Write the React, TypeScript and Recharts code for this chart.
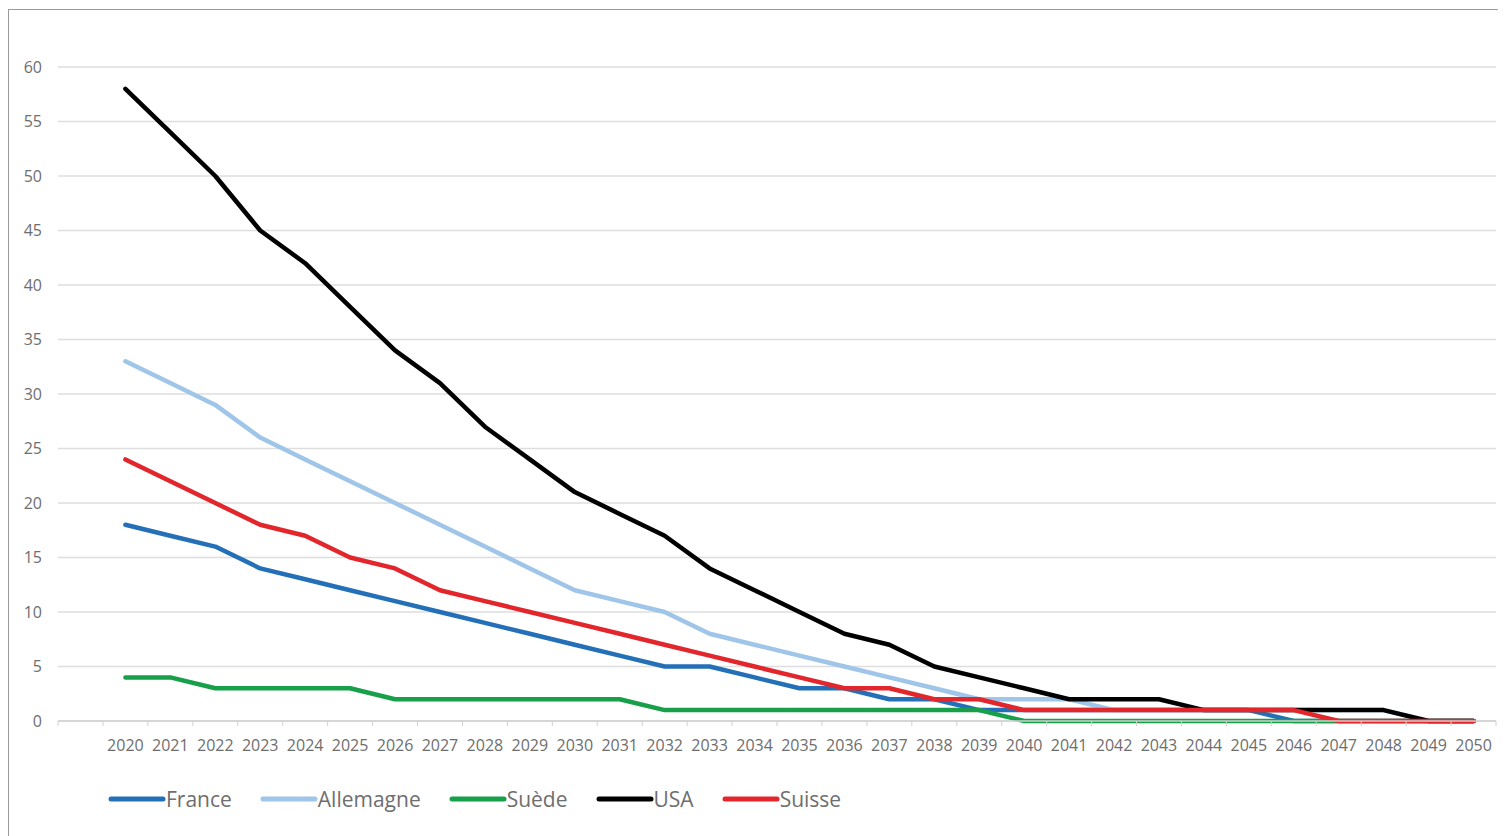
import React from "react";
import { LineChart, Line, XAxis, YAxis, CartesianGrid, Legend } from "recharts";

const years = ["", "2020", "2021", "2022", "2023", "2024", "2025", "2026", "2027", "2028", "2029", "2030", "2031", "2032", "2033", "2034", "2035", "2036", "2037", "2038", "2039", "2040", "2041", "2042", "2043", "2044", "2045", "2046", "2047", "2048", "2049", "2050"];

const france = [null, 18, 17, 16, 14, 13, 12, 11, 10, 9, 8, 7, 6, 5, 5, 4, 3, 3, 2, 2, 1, 1, 1, 1, 1, 1, 1, 0, 0, 0, 0, 0];
const allemagne = [null, 33, 31, 29, 26, 24, 22, 20, 18, 16, 14, 12, 11, 10, 8, 7, 6, 5, 4, 3, 2, 2, 2, 1, 1, 1, 1, 1, 1, 1, 0, 0];
const suede = [null, 4, 4, 3, 3, 3, 3, 2, 2, 2, 2, 2, 2, 1, 1, 1, 1, 1, 1, 1, 1, 0, 0, 0, 0, 0, 0, 0, 0, 0, 0, 0];
const usa = [null, 58, 54, 50, 45, 42, 38, 34, 31, 27, 24, 21, 19, 17, 14, 12, 10, 8, 7, 5, 4, 3, 2, 2, 2, 1, 1, 1, 1, 1, 0, 0];
const suisse = [null, 24, 22, 20, 18, 17, 15, 14, 12, 11, 10, 9, 8, 7, 6, 5, 4, 3, 3, 2, 2, 1, 1, 1, 1, 1, 1, 1, 0, 0, 0, 0];

const yTicks = [0, 5, 10, 15, 20, 25, 30, 35, 40, 45, 50, 55, 60];

const series = [
  { key: "France", values: france, color: "#2470b8" },
  { key: "Allemagne", values: allemagne, color: "#9fc5e8" },
  { key: "Suède", values: suede, color: "#17a049" },
  { key: "USA", values: usa, color: "#000000" },
  { key: "Suisse", values: suisse, color: "#e3262b" },
];

const data = years.map((y, i) => {
  const row: any = { year: y };
  series.forEach((s) => {
    row[s.key] = s.values[i];
  });
  return row;
});

const CHART_W = 1497;
const CHART_H = 826;
const MARGIN = { top: 57, right: 10, left: 0, bottom: 75 };
const Y_AXIS_W = 49;
const HALF_BAND = (CHART_W - MARGIN.right - Y_AXIS_W) / years.length / 2;
const FONT = "'Open Sans', 'Noto Sans', sans-serif";
const LABEL_COLOR = "#6e6e6e";

const XTick = (props: any) => {
  const { x, y, payload, index } = props;
  const axisY = y - 19;
  const isLast = index === years.length - 1;
  return (
    <g>
      <line x1={x - HALF_BAND} x2={x - HALF_BAND} y1={axisY} y2={axisY + 5} stroke="#d0d0d0" strokeWidth={1} />
      {isLast && (
        <line x1={x + HALF_BAND} x2={x + HALF_BAND} y1={axisY} y2={axisY + 5} stroke="#d0d0d0" strokeWidth={1} />
      )}
      <text x={x} y={y} dy="0.71em" textAnchor="middle" fill={LABEL_COLOR} fontSize={16} fontFamily={FONT}>
        {payload.value}
      </text>
    </g>
  );
};

const LegendContent = () => (
  <div style={{ display: "flex", alignItems: "center", fontFamily: FONT, fontSize: 21, color: LABEL_COLOR }}>
    {series.map((s) => (
      <div key={s.key} style={{ display: "flex", alignItems: "center", marginRight: 28 }}>
        <svg width={58} height={10} style={{ display: "block" }}>
          <line x1={3} x2={55} y1={5} y2={5} stroke={s.color} strokeWidth={5} strokeLinecap="round" />
        </svg>
        <span style={{ lineHeight: "28px" }}>{s.key}</span>
      </div>
    ))}
  </div>
);

export default function App() {
  return (
    <div
      style={{
        marginTop: 1,
        width: 1510,
        height: 840,
        border: "1px solid #9a9a9a",
        background: "#ffffff",
        boxSizing: "border-box",
      }}
    >
      <LineChart width={CHART_W} height={CHART_H} data={data} margin={MARGIN}>
        <CartesianGrid vertical={false} stroke="#dedede" strokeWidth={1.5} />
        <XAxis
          dataKey="year"
          scale="band"
          axisLine={{ stroke: "#d0d0d0", strokeWidth: 1.5 }}
          tickLine={false}
          tickSize={6}
          tickMargin={13}
          interval={0}
          tick={<XTick />}
          height={40}
        />
        <YAxis
          domain={[0, 60]}
          ticks={yTicks}
          width={Y_AXIS_W}
          axisLine={false}
          tickLine={false}
          tickSize={6}
          tickMargin={10}
          tick={{ fill: LABEL_COLOR, fontSize: 16, fontFamily: FONT }}
          interval={0}
        />
        {series.map((s) => (
          <Line
            key={s.key}
            type="linear"
            dataKey={s.key}
            stroke={s.color}
            strokeWidth={4.5}
            dot={false}
            activeDot={false}
            isAnimationActive={false}
            strokeLinejoin="round"
            strokeLinecap="round"
          />
        ))}
        <Legend
          layout="horizontal"
          verticalAlign="middle"
          align="center"
          content={<LegendContent />}
          wrapperStyle={{ position: "absolute", left: 99, top: 775, width: "auto", height: "auto" }}
        />
      </LineChart>
    </div>
  );
}
